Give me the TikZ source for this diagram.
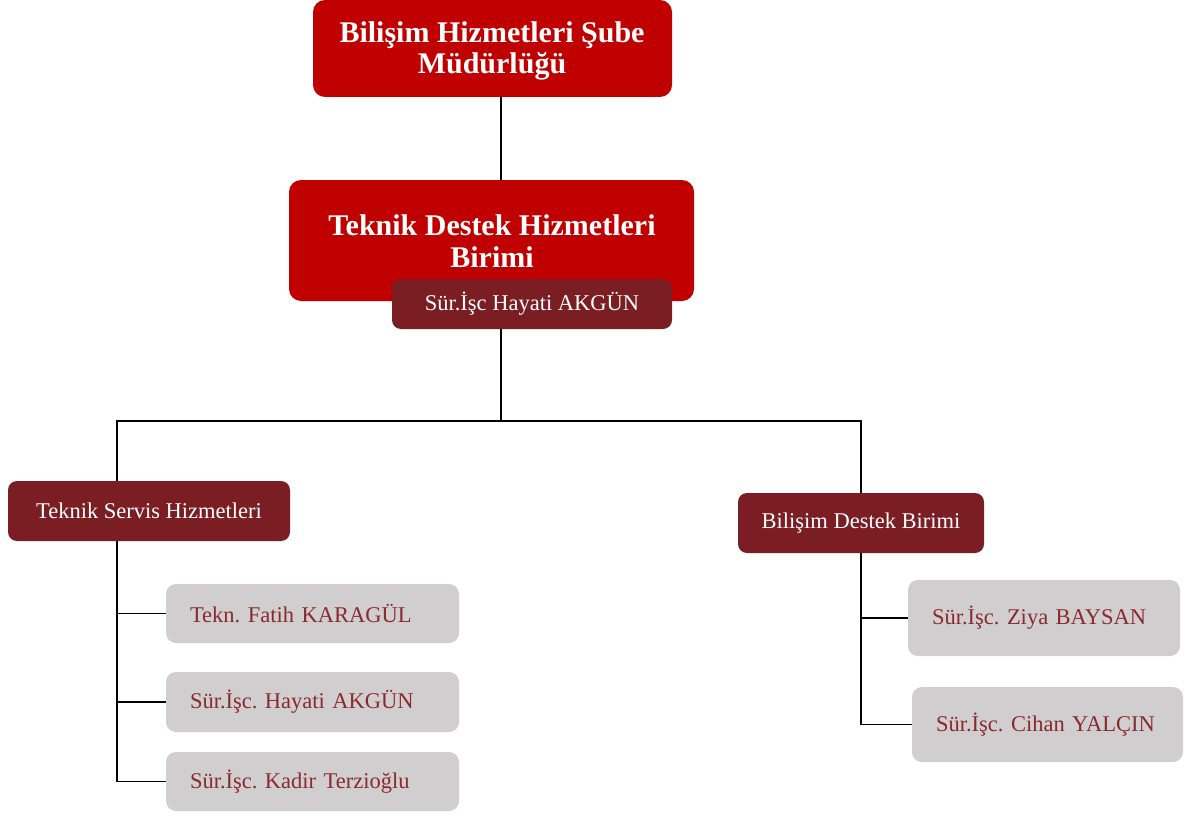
\documentclass[tikz,border=0pt]{standalone}
\usepackage{fontspec}
\setmainfont{Liberation Serif}
\frenchspacing
\definecolor{topred}{HTML}{C00000}
\definecolor{darkred}{HTML}{7B1E24}
\definecolor{boxgray}{HTML}{D1CECF}
\definecolor{graytext}{HTML}{8A2A2F}
\tikzset{
  redbox/.style={draw=none, fill=topred, rounded corners=12pt, inner sep=0pt, outer sep=0pt},
  redtext/.style={inner sep=0pt, text=white, align=center, font=\fontsize{30}{31.5}\selectfont\bfseries\frenchspacing},
  darkbox/.style={draw=none, fill=darkred, rounded corners=9pt, inner sep=0pt, outer sep=0pt,
    text=white, align=center, font=\fontsize{22.5}{27}\selectfont\frenchspacing},
  graybox/.style={draw=none, fill=boxgray, rounded corners=10pt, inner ysep=0pt, inner xsep=24pt, outer sep=0pt,
    text=graytext, align=left, font=\fontsize{22.5}{27}\selectfont\frenchspacing},
  link/.style={draw=black, line width=1.3pt}
}
\begin{document}
\begin{tikzpicture}[x=1pt,y=-1pt]
\useasboundingbox (0,0) rectangle (1187,816);
\node[redbox, minimum width=359pt, minimum height=97pt] (top) at (492.5,48.5) {};
\node[redtext] (toptext) at (492,51) {Bilişim Hizmetleri Şube\\Müdürlüğü};
\node[redbox, minimum width=405pt, minimum height=121pt] (tdh) at (491.5,240.5) {};
\node[redtext] (tdhtext) at (492,241) {Teknik Destek Hizmetleri\\Birimi};
\node[darkbox, minimum width=280pt, minimum height=50pt] (hay) at (532,304) {Sür.İşc Hayati AKGÜN};
\node[darkbox, minimum width=282pt, minimum height=60pt] (tsh) at (149,511) {Teknik Servis Hizmetleri};
\node[darkbox, minimum width=246pt, minimum height=60pt] (bds) at (861,523) {Bilişim Destek Birimi};
\node[graybox, text width=245pt, minimum height=59pt] (g1) at (312.5,613.5) {Tekn. Fatih KARAGÜL};
\node[graybox, text width=245pt, minimum height=60pt] (g2) at (312.5,702) {Sür.İşc. Hayati AKGÜN};
\node[graybox, text width=245pt, minimum height=59pt] (g3) at (312.5,781.5) {Sür.İşc. Kadir Terzioğlu};
\node[graybox, text width=224pt, minimum height=76pt] (g4) at (1044,618) {Sür.İşc. Ziya BAYSAN};
\node[graybox, text width=223pt, minimum height=75pt] (g5) at (1047.5,724.5) {Sür.İşc. Cihan YALÇIN};
\coordinate (bus) at (501,421);
\coordinate (lx) at (117,0);
\draw[link] (top.south -| bus) -- (tdh.north -| bus);
\draw[link] (hay.south -| bus) -- (bus);
\draw[link] (tsh.north -| lx) -- (lx |- bus) -- (bus -| bds) -- (bds.north);
\draw[link] (tsh.south -| lx) |- (g3.west);
\draw[link] (lx |- g1.west) -- (g1.west);
\draw[link] (lx |- g2.west) -- (g2.west);
\draw[link] (bds.south) |- (g5.west);
\draw[link] (bds.south |- g4.west) -- (g4.west);
\end{tikzpicture}
\end{document}
